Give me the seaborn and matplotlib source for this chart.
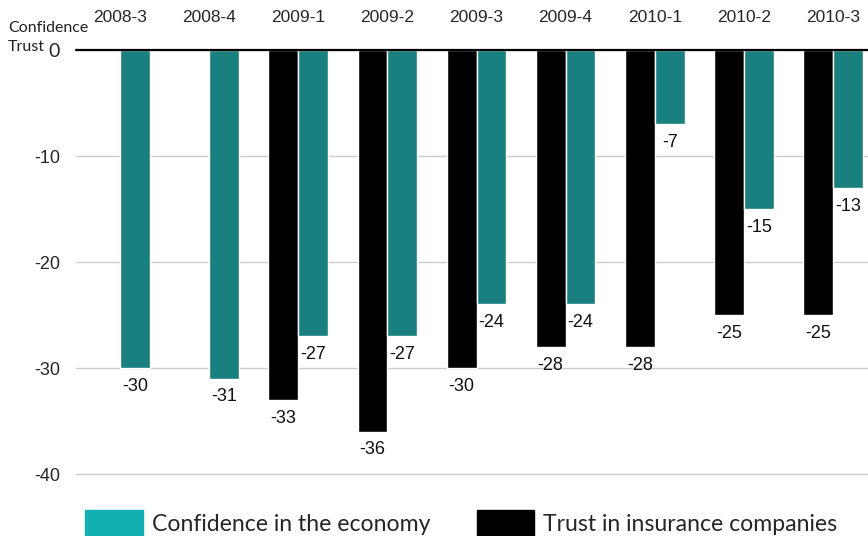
import matplotlib
matplotlib.use("Agg")
import matplotlib.pyplot as plt
import matplotlib.patches as mpatches
import numpy as np
import pandas as pd
import seaborn as sns

# data
quarters = ["2008-3", "2008-4", "2009-1", "2009-2", "2009-3",
            "2009-4", "2010-1", "2010-2", "2010-3"]
confidence = [-30, -31, -27, -27, -24, -24, -7, -15, -13]
trust = [np.nan, np.nan, -33, -36, -30, -28, -28, -25, -25]
yticks = [0, -10, -20, -30, -40]

CONF_NAME = "Confidence in the economy"
TRUST_NAME = "Trust in insurance companies"

df = pd.DataFrame({
    "quarter": quarters * 2,
    "series": [TRUST_NAME] * len(quarters) + [CONF_NAME] * len(quarters),
    "value": trust + confidence,
})

sns.set_style("white")
plt.rcParams["font.family"] = ["Liberation Sans", "DejaVu Sans"]

W, H = 868, 536
fig = plt.figure(figsize=(W / 100, H / 100), dpi=100)
# plot area: zero line at y=50px, -40 at y=474px, categories spaced ~89px
left, top, bottom = 75.5, 50, 474
ax = fig.add_axes([left / W, (H - bottom) / H, 802 / W, (bottom - top) / H])

sns.barplot(data=df, x="quarter", y="value", hue="series",
            hue_order=[TRUST_NAME, CONF_NAME],
            palette={TRUST_NAME: "#000000", CONF_NAME: "#1a7f7f"},
            saturation=1, order=quarters, width=0.67, errorbar=None,
            ax=ax, zorder=2)
ax.get_legend().remove()

for cont in ax.containers:
    ax.bar_label(cont, fmt="%d", padding=7, fontsize=13, color="#111111")

ax.set_xlim(-0.5, len(quarters) - 0.5)
ax.set_ylim(-40, 0)
ax.set_yticks(yticks)
ax.set_yticklabels([str(v) for v in yticks])
ax.yaxis.grid(True, color="#cccccc", lw=1, zorder=0)
for gl in ax.get_ygridlines():
    gl.set_clip_on(False)
ax.axhline(0, color="black", lw=1.6, zorder=5, clip_on=False)
sns.despine(ax=ax, left=True, bottom=True)

ax.xaxis.tick_top()
ax.tick_params(axis="x", length=0, pad=18, labelsize=12.5)
ax.tick_params(axis="y", length=0, pad=11, labelsize=13)
ax.set_xlabel("")
ax.set_ylabel("")
for lab in ax.get_yticklabels():
    if lab.get_text() == "0":
        lab.set_fontfamily(["Lato", "DejaVu Sans"])
        lab.set_fontsize(14)

fig.text(8 / W, 1 - 28 / H, "Confidence", ha="left", va="center",
         fontsize=11.5, family=["Lato", "DejaVu Sans"], color="#222222")
fig.text(8 / W, 1 - 47 / H, "Trust", ha="left", va="center",
         fontsize=11.5, family=["Lato", "DejaVu Sans"], color="#222222")

handles = [mpatches.Patch(color="#12b0b0", label=CONF_NAME),
           mpatches.Patch(color="#000000", label=TRUST_NAME)]
fig.legend(handles=handles, loc="lower left", ncol=2,
           bbox_to_anchor=(69 / W, -0.03), frameon=False,
           prop={"family": ["Lato", "DejaVu Sans"], "size": 16.6},
           handlelength=2.5, handleheight=1.35, handletextpad=0.4,
           columnspacing=2.0, borderpad=0.2)

fig.savefig("out.png", dpi=100)
